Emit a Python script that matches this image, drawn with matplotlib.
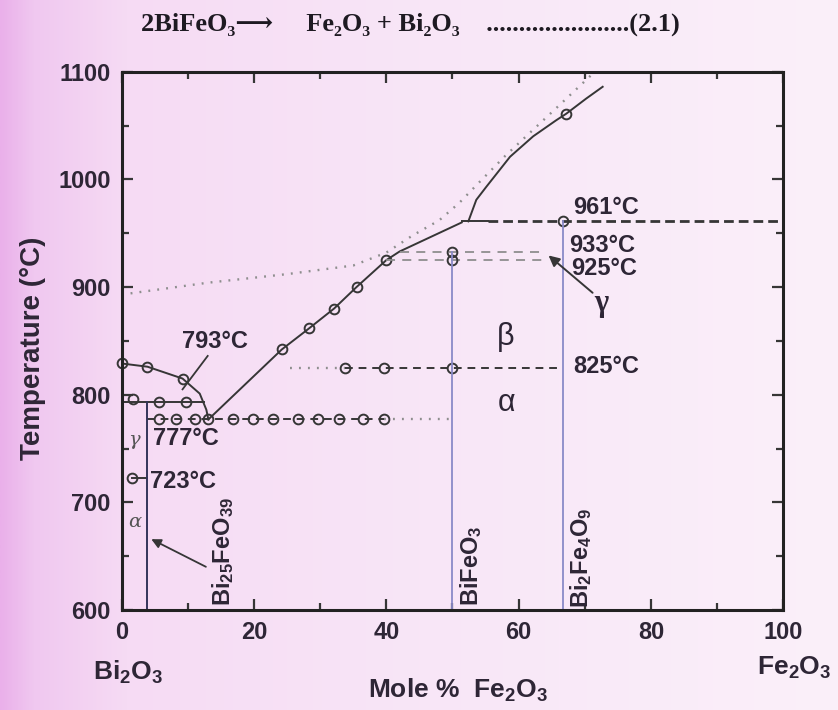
import numpy as np
import matplotlib
matplotlib.use('Agg')
import matplotlib.pyplot as plt

plt.rcParams['font.family'] = ['Liberation Sans', 'DejaVu Sans']
plt.rcParams['font.weight'] = 'bold'
plt.rcParams['mathtext.fontset'] = 'custom'
plt.rcParams['mathtext.rm'] = 'Liberation Sans'
plt.rcParams['mathtext.default'] = 'regular'

INK = '#2e2636'
LINE = '#363636'
LIGHT = '#8e8e8e'
VLINE = '#8a8ac8'
DARK_V = '#34345a'

# Bi2O3-rich liquidus (dome on the left)
dome_x = [0, 3.9, 9.2, 11.8, 12.8, 13.1]
dome_t = [829, 826, 815, 801, 786, 777]
dome_pts_x = [0, 3.9, 9.2]
dome_pts_t = [829, 826, 815]

# liquidus from the eutectic up to BiFeO3
liq_x = [13.1, 24.2, 28.3, 32.1, 35.5, 40.0, 42.0, 51.4]
liq_t = [777, 842, 861.5, 880, 900, 925, 933, 960]
liq_pts_x = [24.2, 28.3, 32.1, 35.5, 40.0]
liq_pts_t = [842, 861.5, 880, 900, 925]

# liquidus above the 961 C peritectic
upper_x = [52.4, 53.6, 55.1, 58.7, 62.2, 65.7, 67.2, 70.2, 72.7]
upper_t = [961, 981, 993, 1021, 1040, 1055, 1061, 1075, 1086]
upper_pts_x = [67.2]
upper_pts_t = [1061]

# older liquidus (dotted)
old_x = [0, 13, 25, 35, 40, 44, 48, 51, 54, 58, 62, 66, 71]
old_t = [893, 904, 912, 920, 932, 948, 962, 978, 997, 1022, 1045, 1068, 1097]

# invariant lines
t793_x = [0, 12.4]
t793_pts_x = [1.75, 5.7, 9.7]
t793_pts_t = [796, 793, 793]

t777_dash_x = [3.85, 39.6]
t777_dot_x = [39.6, 50.0]
t777_pts_x = [5.7, 8.2, 11.1, 13.1, 16.9, 19.9, 22.9, 26.7, 29.7, 32.9, 36.4, 39.6]

t825_dot_x = [25.5, 33.8]
t825_dash_x = [33.8, 66.0]
t825_pts_x = [33.8, 39.7, 50.0]

t961_solid_x = [51.4, 55.4]
t961_dash_x = [55.4, 100]
t933_x = [42.0, 63.5]
t925_x = [40.0, 64.5]

t723_x = [1.5, 3.85]

# compound compositions (mole % Fe2O3)
x_bi25 = 3.85
x_bifeo3 = 50.0
x_bi2fe4 = 66.7

fig = plt.figure(figsize=(8.38, 7.10), dpi=100)

# paper background, deeper pink towards the left edge
bg = fig.add_axes([0, 0, 1, 1], zorder=-10)
gx = np.linspace(0, 1, 400)
stops = [0, 0.04, 0.15, 0.5, 1]
cols = np.array([[234, 176, 234], [240, 200, 240], [246, 219, 244],
                 [248, 230, 247], [251, 240, 250]]) / 255
grad = np.stack([np.interp(gx, stops, cols[:, i]) for i in range(3)], axis=-1)
bg.imshow(grad[None, :, :], aspect='auto', extent=[0, 1, 0, 1])
bg.axis('off')

ax = fig.add_axes([0.1452, 0.1408, 0.7895, 0.7582])
ax.patch.set_alpha(0)

mk = dict(ls='none', marker='o', ms=7, mfc='none', mec=LINE, mew=1.4)

# solid phase boundaries
ax.plot(dome_x, dome_t, color=LINE, lw=1.4)
ax.plot(dome_pts_x, dome_pts_t, **mk, clip_on=False)
ax.plot(liq_x, liq_t, color=LINE, lw=1.4)
ax.plot(liq_pts_x, liq_pts_t, **mk)
ax.plot(upper_x, upper_t, color=LINE, lw=1.4)
ax.plot(upper_pts_x, upper_pts_t, **mk)
ax.plot(old_x, old_t, color=LIGHT, lw=1.7, dashes=(0.8, 3))

# 793 C
ax.plot(t793_x, [793, 793], color=LINE, lw=1.4)
ax.plot(t793_pts_x, t793_pts_t, **mk)
# 777 C eutectic
ax.plot(t777_dash_x, [777, 777], color=LINE, lw=1.4, dashes=(4, 3))
ax.plot(t777_dot_x, [777, 777], color=LIGHT, lw=1.7, dashes=(0.8, 3))
ax.plot(t777_pts_x, [777] * len(t777_pts_x), **mk)
# 825 C
ax.plot(t825_dot_x, [825, 825], color=LIGHT, lw=1.7, dashes=(0.8, 3))
ax.plot(t825_dash_x, [825, 825], color=LINE, lw=1.4, dashes=(4, 3))
ax.plot(t825_pts_x, [825] * len(t825_pts_x), **mk)
# 961 / 933 / 925 C
ax.plot(t961_solid_x, [961, 961], color=LINE, lw=1.4)
ax.plot(t961_dash_x, [961, 961], color=LINE, lw=2.0, dashes=(3.5, 1.8))
ax.plot([x_bi2fe4], [961], **mk)
ax.plot(t933_x, [933, 933], color=LIGHT, lw=1.3, dashes=(5, 4))
ax.plot(t925_x, [925, 925], color=LIGHT, lw=1.3, dashes=(5, 4))
ax.plot([x_bifeo3, x_bifeo3], [933, 925], **mk)
# 723 C
ax.plot(t723_x, [723, 723], color=LINE, lw=1.4)
ax.plot([t723_x[0]], [723], **mk)

# compound lines
ax.plot([x_bi25, x_bi25], [600, 793], color=DARK_V, lw=1.4)
ax.plot([x_bifeo3, x_bifeo3], [600, 933], color=VLINE, lw=1.3)
ax.plot([x_bi2fe4, x_bi2fe4], [600, 961], color=VLINE, lw=1.3)

# leader lines and arrows
ax.plot([9.2, 13.0], [805, 836], color=LINE, lw=1.3)
ax.annotate('', xy=(64.2, 931), xytext=(71.5, 893),
            arrowprops=dict(arrowstyle='-|>', color=LINE, lw=1.4, mutation_scale=16))
ax.annotate('', xy=(4.1, 667), xytext=(13.1, 639),
            arrowprops=dict(arrowstyle='-|>', color=LINE, lw=1.3, mutation_scale=14))

# temperature labels
lab = dict(fontsize=17, color=INK, va='center')
ax.text(68.2, 974, '961°C', ha='left', **lab)
ax.text(67.7, 939, '933°C', ha='left', **lab)
ax.text(68.0, 917, '925°C', ha='left', **lab)
ax.text(68.2, 826, '825°C', ha='left', **lab)
ax.text(14.1, 849, '793°C', ha='center', **lab)
ax.text(4.8, 759, '777°C', ha='left', **lab)
ax.text(4.3, 719, '723°C', ha='left', **lab)

# phase labels
ax.text(58.0, 854, 'β', fontsize=22, color=INK, ha='center', va='center',
        weight='normal')
ax.text(58.2, 792, 'α', fontsize=22, color=INK, ha='center', va='center',
        weight='normal')
ax.text(72.5, 885, 'γ', fontsize=22, color=INK, ha='center', va='center',
        family='Liberation Serif', weight='bold')
ax.text(1.8, 758, 'γ', fontsize=14, color='#555', ha='center', va='center',
        family='DejaVu Serif', style='italic', weight='normal')
ax.text(2.0, 682, 'α', fontsize=14, color='#555', ha='center', va='center',
        family='DejaVu Serif', style='italic', weight='normal')

# compound names
rot = dict(rotation=90, fontsize=17, color=INK, ha='center', va='bottom')
ax.text(15.3, 604, r'Bi$_{25}$FeO$_{39}$', **rot)
ax.text(52.8, 604, r'BiFeO$_3$', **rot)
ax.text(69.5, 602, r'Bi$_2$Fe$_4$O$_9$', **rot)

ax.set_xlim(0, 100)
ax.set_ylim(600, 1100)
ax.set_xticks([0, 20, 40, 60, 80, 100])
ax.set_xticks([10, 30, 50, 70, 90], minor=True)
ax.set_yticks([600, 700, 800, 900, 1000, 1100])
ax.set_yticks([650, 750, 850, 950, 1050], minor=True)
ax.tick_params(which='both', direction='in', top=True, right=True,
               width=1.6, color=LINE, labelsize=17, labelcolor=INK)
ax.tick_params(which='major', length=8, pad=8)
ax.tick_params(which='minor', length=5)
for s in ax.spines.values():
    s.set_linewidth(2.2)
    s.set_color('#222')

fig.text(33 / 838, 1 - 348 / 710, 'Temperature (°C)', rotation=90, fontsize=20,
         color=INK, ha='center', va='center')
fig.text(458 / 838, 1 - 690 / 710, r'Mole %  Fe$_2$O$_3$', fontsize=19,
         color=INK, ha='center', va='center')
fig.text(128 / 838, 1 - 672 / 710, r'Bi$_2$O$_3$', fontsize=19,
         color=INK, ha='center', va='center')
fig.text(794 / 838, 1 - 668 / 710, r'Fe$_2$O$_3$', fontsize=19,
         color=INK, ha='center', va='center')

fig.text(141 / 838, 1 - 24 / 710,
         '2BiFeO₃⟶     Fe₂O₃ + Bi₂O₃    ......................(2.1)',
         family=['Liberation Serif', 'DejaVu Serif'], fontsize=19,
         weight='bold', color='#1e1a22', ha='left', va='center')

fig.savefig('out.png', dpi=100)
